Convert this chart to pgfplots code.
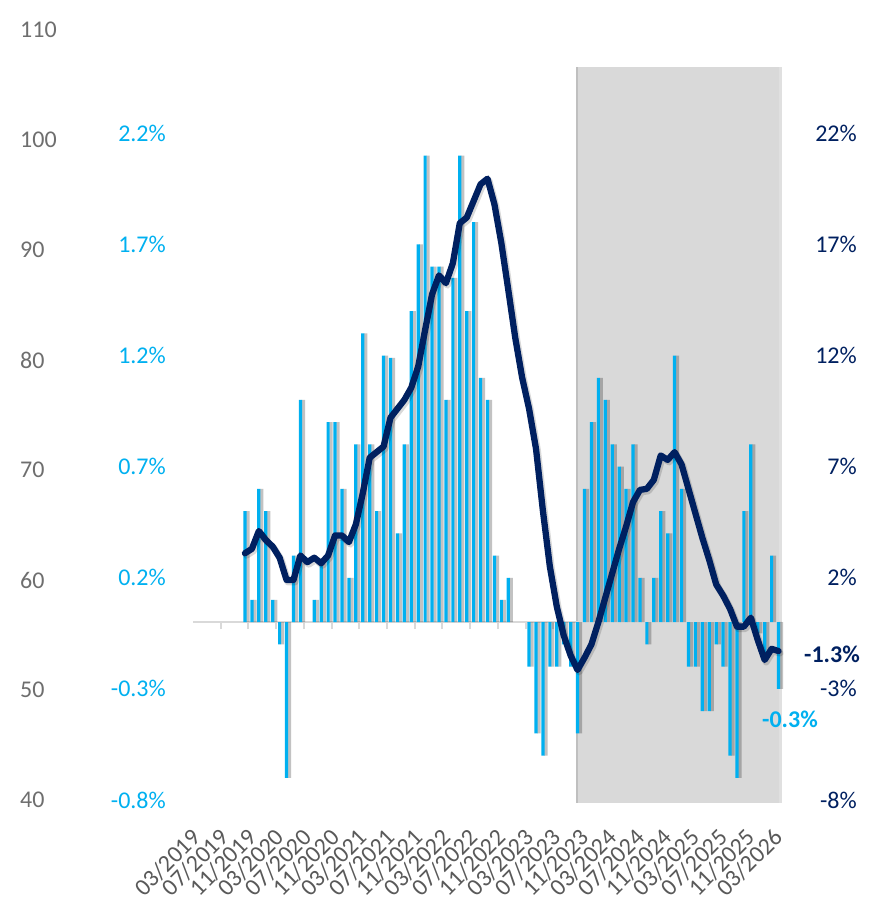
\documentclass[border=0pt]{standalone}
\usepackage{fontspec}
\setmainfont{Carlito}
\usepackage{pgfplots}
\usepackage{pgfplotstable}
\pgfplotsset{compat=1.18}
\definecolor{lblue}{HTML}{00B0F0}
\definecolor{navy}{HTML}{002060}
\definecolor{shade}{HTML}{D9D9D9}
\definecolor{shadeedge}{HTML}{BFBFBF}
\definecolor{basegray}{HTML}{D9D9D9}
\definecolor{lgray}{HTML}{6E6E6E}
\definecolor{xgray}{HTML}{595959}

\pgfplotstableread{
x y
7.5 0.5
8.5 0.1
9.5 0.6
10.5 0.5
11.5 0.1
12.5 -0.1
13.5 -0.7
14.5 0.3
15.5 1.0
17.5 0.1
18.5 0.27
19.5 0.9
20.5 0.9
21.5 0.6
22.5 0.2
23.5 0.8
24.5 1.3
25.5 0.8
26.5 0.5
27.5 1.2
28.5 1.19
29.5 0.4
30.5 0.8
31.5 1.4
32.5 1.7
33.5 2.1
34.5 1.6
35.5 1.6
36.5 1.0
37.5 1.55
38.5 2.1
39.5 1.4
40.5 1.8
41.5 1.1
42.5 1.0
43.5 0.3
44.5 0.1
45.5 0.2
48.5 -0.2
49.5 -0.5
50.5 -0.6
51.5 -0.2
52.5 -0.2
53.5 -0.1
54.5 -0.2
55.5 -0.5
56.5 0.6
57.5 0.9
58.5 1.1
59.5 1.0
60.5 0.8
61.5 0.7
62.5 0.6
63.5 0.8
64.5 0.2
65.5 -0.1
66.5 0.2
67.5 0.5
68.5 0.4
69.5 1.2
70.5 0.6
71.5 -0.2
72.5 -0.2
73.5 -0.4
74.5 -0.4
75.5 -0.1
76.5 -0.2
77.5 -0.6
78.5 -0.7
79.5 0.5
80.5 0.8
81.5 -0.05
82.5 -0.15
83.5 0.3
84.5 -0.3
}\bars

\pgfplotstableread{
x y
7.5 3.1
8.5 3.3
9.5 4.1
10.5 3.7
11.5 3.4
12.5 2.9
13.5 1.9
14.5 1.9
15.5 3.0
16.5 2.7
17.5 2.9
18.5 2.65
19.5 3.0
20.5 3.9
21.5 3.9
22.5 3.6
23.5 4.4
24.5 5.8
25.5 7.4
26.5 7.65
27.5 7.9
28.5 9.2
29.5 9.6
30.5 10.0
31.5 10.55
32.5 11.5
33.5 13.15
34.5 14.75
35.5 15.6
36.5 15.25
37.5 16.15
38.5 17.95
39.5 18.2
40.5 18.95
41.5 19.7
42.5 19.95
43.5 18.8
44.5 17.05
45.5 14.95
46.5 12.8
47.5 11.0
48.5 9.6
49.5 7.8
50.5 5.0
51.5 2.5
52.5 0.7
53.5 -0.6
54.5 -1.5
55.5 -2.15
56.5 -1.6
57.5 -1.0
58.5 0.0
59.5 1.1
60.5 2.2
61.5 3.3
62.5 4.3
63.5 5.4
64.5 5.95
65.5 6.0
66.5 6.4
67.5 7.5
68.5 7.3
69.5 7.65
70.5 7.1
71.5 6.0
72.5 4.9
73.5 3.8
74.5 2.8
75.5 1.7
76.5 1.2
77.5 0.6
78.5 -0.2
79.5 -0.2
80.5 0.2
81.5 -0.8
82.5 -1.7
83.5 -1.2
84.5 -1.3
}\yoy

\begin{document}
\begin{tikzpicture}
\useasboundingbox (0,0) rectangle (871bp,902bp);
\pgfplotsset{
  common/.style={at={(193bp,102bp)}, anchor=south west, scale only axis,
    width=589bp, height=770bp, xmin=0, xmax=85, clip=false,
    tick label style={font=\fontsize{24bp}{28bp}\selectfont, inner sep=0pt}},
}
% Axis A: left labels, x labels, shaded period
\begin{axis}[common, ymin=40, ymax=110,
  axis x line*=bottom, axis y line*=left, axis line style={draw=none},
  major tick length=0pt, tick style={draw=none},
  xtick={0,4,...,84},
  xticklabels={03/2019,07/2019,11/2019,03/2020,07/2020,11/2020,03/2021,07/2021,11/2021,03/2022,07/2022,11/2022,03/2023,07/2023,11/2023,03/2024,07/2024,11/2024,03/2025,07/2025,11/2025,03/2026},
  xticklabel style={xshift=3.8bp, yshift=-33.5bp, rotate=45, anchor=east, text=xgray},
  ytick={40,50,...,110},
  yticklabels={40,50,60,70,80,90,100,110},
  yticklabel style={anchor=west, xshift=-173bp, text=lgray},
]
\addplot[fill=shade, draw=none] coordinates {(55.4,39.73) (55.4,106.64) (84.63,106.64) (84.63,39.73)} -- cycle;
\addplot[draw=shadeedge, line width=1.3bp] coordinates {(55.4,39.73) (55.4,106.64)};
\addplot[draw=black, opacity=0.12, line width=3bp, xshift=1.5bp] coordinates {(84.63,39.73) (84.63,106.64)};
\end{axis}
% Axis B: monthly bars, middle labels, zero line
\begin{axis}[common, ymin=-0.8, ymax=2.665,
  axis x line=middle, axis y line*=left,
  x axis line style={-, draw=basegray, line width=2.3bp},
  y axis line style={draw=none},
  xtick={0,4,...,84}, xticklabels={},
  xtick style={draw=basegray, line width=2bp},
  ytick style={draw=none},
  major tick length=7bp, xtick align=outside,
  ytick={-0.8,-0.3,0.2,0.7,1.2,1.7,2.2},
  yticklabels={-0.8\%,-0.3\%,0.2\%,0.7\%,1.2\%,1.7\%,2.2\%},
  yticklabel style={anchor=east, xshift=-27bp, text=lblue},
]
\addplot[ybar, bar width=3.4bp, bar shift=2.9bp, fill=black, fill opacity=0.24, draw=none] table {\bars};
\addplot[ybar, bar width=3.2bp, bar shift=0pt, fill=lblue, draw=none] table {\bars};
\end{axis}
% Axis C: year-on-year line, right labels
\begin{axis}[common, ymin=-8, ymax=26.64,
  hide x axis, axis y line*=right, y axis line style={draw=none}, ytick style={draw=none},
  ytick={-8,-3,2,7,12,17,22},
  yticklabels={-8\%,-3\%,2\%,7\%,12\%,17\%,22\%},
  yticklabel style={anchor=east, xshift=75bp, text=navy},
]
\addplot[draw=black, opacity=0.15, line width=7bp, line join=round, line cap=round, xshift=1.5bp, yshift=-2bp] table {\yoy};
\addplot[draw=navy, line width=6.3bp, line join=round, line cap=round] table {\yoy};
\node[anchor=east, inner sep=0pt, text=navy, font=\bfseries\fontsize{24bp}{28bp}\selectfont] at (axis cs:96.25,-1.43) {-1.3\%};
\node[anchor=east, inner sep=0pt, text=lblue, font=\bfseries\fontsize{24bp}{28bp}\selectfont] at (axis cs:90.19,-4.35) {-0.3\%};
\end{axis}
\end{tikzpicture}
\end{document}
